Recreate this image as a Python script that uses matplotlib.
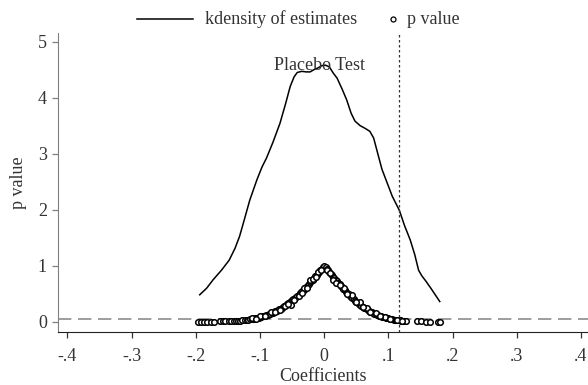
import numpy as np
import matplotlib
matplotlib.use('Agg')
import matplotlib.pyplot as plt
from matplotlib.lines import Line2D

plt.rcParams['font.family'] = ['Liberation Serif', 'DejaVu Serif']

# kernel density of placebo estimates
kd_x = [-0.194, -0.183, -0.173, -0.160, -0.148, -0.139, -0.132, -0.126, -0.116, -0.105,
        -0.097, -0.090, -0.080, -0.069, -0.060, -0.053, -0.047, -0.042, -0.035, -0.028,
        -0.022, -0.016, -0.010, -0.004, 0.002, 0.008, 0.014, 0.020, 0.028, 0.035,
        0.042, 0.048, 0.056, 0.064, 0.071, 0.077, 0.083, 0.090, 0.098, 0.106,
        0.117, 0.125, 0.134, 0.141, 0.147, 0.152, 0.158, 0.166, 0.173, 0.180]
kd_y = [0.48, 0.60, 0.75, 0.92, 1.10, 1.31, 1.52, 1.76, 2.17, 2.53,
        2.76, 2.92, 3.20, 3.54, 3.90, 4.20, 4.37, 4.45, 4.47, 4.46,
        4.46, 4.50, 4.53, 4.57, 4.58, 4.55, 4.44, 4.35, 4.15, 3.96,
        3.72, 3.58, 3.50, 3.45, 3.40, 3.28, 3.02, 2.72, 2.48, 2.24,
        1.99, 1.72, 1.46, 1.20, 0.92, 0.82, 0.73, 0.60, 0.48, 0.36]

# estimated coefficients and their p values
coef = [-0.196, -0.192, -0.187, -0.182, -0.176, -0.171, -0.163, -0.158, -0.154, -0.149,
        -0.145, -0.141, -0.138, -0.135, -0.132,
        -0.128, -0.124, -0.121, -0.118, -0.115, -0.113, -0.110, -0.108, -0.106, -0.104,
        -0.102, -0.100, -0.098, -0.096, -0.094, -0.092, -0.090, -0.088, -0.086, -0.084,
        -0.082, -0.080, -0.078, -0.076, -0.074, -0.072, -0.070, -0.068, -0.066, -0.064,
        -0.062, -0.060, -0.058, -0.056, -0.054, -0.052, -0.050, -0.048, -0.046, -0.044,
        -0.042, -0.040, -0.038, -0.036, -0.034, -0.032, -0.030, -0.028, -0.026, -0.024,
        -0.022, -0.020, -0.018, -0.016, -0.014, -0.012, -0.010, -0.008, -0.006, -0.004,
        -0.002, 0.000,
        0.002, 0.004, 0.006, 0.008, 0.010, 0.012, 0.014, 0.016, 0.018, 0.020,
        0.022, 0.024, 0.026, 0.028, 0.030, 0.032, 0.034, 0.036, 0.038, 0.040,
        0.042, 0.044, 0.046, 0.048, 0.050, 0.052, 0.054, 0.056, 0.058, 0.060,
        0.062, 0.064, 0.066, 0.068, 0.070, 0.072, 0.074, 0.076, 0.078, 0.080,
        0.082, 0.084, 0.086, 0.088, 0.090, 0.092, 0.094, 0.096, 0.098, 0.100,
        0.102, 0.104, 0.106, 0.108, 0.110, 0.112, 0.114, 0.116, 0.118, 0.120,
        0.122, 0.124, 0.126, 0.128,
        0.144, 0.151, 0.159, 0.165, 0.178, 0.181,
        -0.113, -0.100, -0.083, -0.061, -0.051, -0.040, -0.031, -0.022, -0.017, -0.009,
        0.005, 0.014, 0.019, 0.031, 0.043, 0.055, 0.066, 0.081, 0.095, 0.118,
        -0.107, -0.093, -0.077, -0.069, -0.057, -0.047, -0.035, -0.027, -0.013, -0.005,
        0.009, 0.025, 0.036, 0.049, 0.061, 0.072, 0.087, 0.102, 0.113, 0.121]
pval = [0.001, 0.001, 0.001, 0.001, 0.002, 0.002, 0.004, 0.005, 0.006, 0.007,
        0.009, 0.012, 0.014, 0.016, 0.019,
        0.025, 0.030, 0.034, 0.038, 0.044, 0.047, 0.054, 0.058, 0.063, 0.068,
        0.074, 0.080, 0.086, 0.093, 0.099, 0.106, 0.114, 0.122, 0.131, 0.140,
        0.150, 0.160, 0.171, 0.182, 0.194, 0.206, 0.219, 0.232, 0.246, 0.260,
        0.276, 0.292, 0.309, 0.326, 0.344, 0.362, 0.381, 0.400, 0.420, 0.440,
        0.461, 0.482, 0.505, 0.527, 0.550, 0.574, 0.598, 0.622, 0.648, 0.673,
        0.700, 0.726, 0.753, 0.780, 0.808, 0.836, 0.863, 0.890, 0.917, 0.945,
        0.972, 0.995,
        0.972, 0.945, 0.915, 0.888, 0.860, 0.832, 0.804, 0.776, 0.748, 0.720,
        0.692, 0.665, 0.638, 0.612, 0.586, 0.560, 0.535, 0.511, 0.487, 0.464,
        0.441, 0.419, 0.398, 0.377, 0.357, 0.338, 0.319, 0.301, 0.284, 0.267,
        0.251, 0.236, 0.221, 0.207, 0.193, 0.180, 0.168, 0.156, 0.145, 0.134,
        0.124, 0.115, 0.106, 0.097, 0.089, 0.082, 0.075, 0.069, 0.063, 0.057,
        0.052, 0.047, 0.042, 0.038, 0.034, 0.031, 0.027, 0.025, 0.022, 0.020,
        0.018, 0.016, 0.014, 0.012,
        0.006, 0.004, 0.003, 0.002, 0.001, 0.001,
        0.065, 0.095, 0.165, 0.275, 0.305, 0.455, 0.600, 0.740, 0.770, 0.880,
        0.930, 0.745, 0.690, 0.600, 0.480, 0.350, 0.250, 0.150, 0.090, 0.030,
        0.050, 0.110, 0.170, 0.215, 0.310, 0.390, 0.515, 0.610, 0.800, 0.925,
        0.875, 0.650, 0.500, 0.360, 0.255, 0.175, 0.095, 0.048, 0.028, 0.019]

true_coef = 0.1168
xticks = [-0.4, -0.3, -0.2, -0.1, 0, 0.1, 0.2, 0.3, 0.4]
xlabels = ['-.4', '-.3', '-.2', '-.1', '0', '.1', '.2', '.3', '.4']
yticks = [0, 1, 2, 3, 4, 5]

fig = plt.figure(figsize=(5.88, 3.85), dpi=100)
ax = fig.add_axes([58/588, 1 - 331.7/385, 1 - 58/588, (331.7 - 32.7)/385])

ax.plot(kd_x, kd_y, color='black', lw=1.1)
ax.axhline(0.05, color='#8c8c8c', lw=1.2, ls=(0, (8, 4)))
ax.plot(coef, pval, 'o', mfc='white', mec='black', ms=4.0, mew=1.1, ls='none')
ax.axvline(true_coef, color='#333333', lw=0.9, ls=(0, (2, 2)))
ax.text(-0.0067, 4.58, 'Placebo Test', ha='center', va='center', fontsize=13, color='#333333')

ax.set_xlim(-0.4148, 0.411)
ax.set_ylim(-0.179, 5.16)
ax.set_xticks(xticks)
ax.set_xticklabels(xlabels)
ax.set_yticks(yticks)
ax.spines['top'].set_visible(False)
ax.spines['right'].set_visible(False)
ax.spines['left'].set_color('#808080')
ax.spines['bottom'].set_color('#222222')
ax.tick_params(axis='both', labelsize=13, colors='#333333', length=4.5, width=0.9)
ax.tick_params(axis='x', pad=7)
ax.tick_params(axis='y', color='#808080')
ax.set_xlabel('Coefficients', fontsize=13, color='#333333', labelpad=2.5)
ax.set_ylabel('p value', fontsize=13, color='#333333', labelpad=8)

# legend along the top
fig.add_artist(Line2D([137/588, 193/588], [1 - 19/385] * 2, color='black', lw=1.1))
fig.text(205/588, 1 - 19/385, 'kdensity of estimates', fontsize=13, va='center', color='#333333')
fig.add_artist(Line2D([393/588], [1 - 19/385], marker='o', mfc='white', mec='black', ms=3.6, mew=0.9))
fig.text(407/588, 1 - 19/385, 'p value', fontsize=13, va='center', color='#333333')

fig.savefig('out.png', dpi=100)
